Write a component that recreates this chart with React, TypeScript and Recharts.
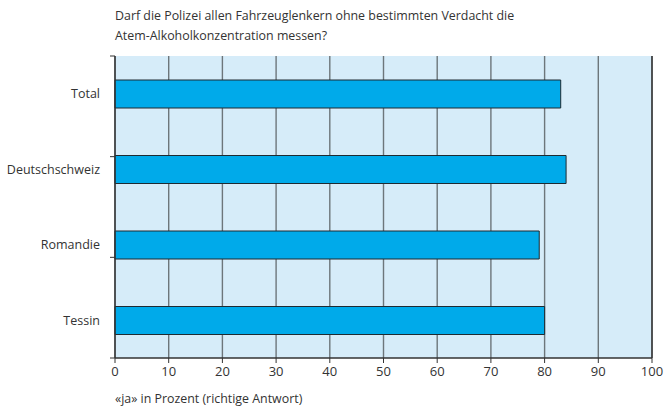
import React from 'react';
import {BarChart,Bar,XAxis,YAxis,CartesianGrid,ReferenceLine} from 'recharts';

const regions=['Total','Deutschschweiz','Romandie','Tessin'];
const yesShare=[83,84,79,80];
const xTicks=[0,10,20,30,40,50,60,70,80,90,100];
const bandEdges=[0,1,2,3,4];
const titleLines=['Darf die Polizei allen Fahrzeuglenkern ohne bestimmten Verdacht die','Atem-Alkoholkonzentration messen?'];
const xLabel='«ja» in Prozent (richtige Antwort)';

const data=regions.map((r,i)=>({region:r,value:yesShare[i]}));

const font='"Open Sans", "DejaVu Sans", sans-serif';
const ink='#333';

const App:React.FC=()=>{
  return(
    <div style={{position:'absolute',left:0,top:0,width:665,height:409,background:'#fff',fontFamily:font}}>
      {/* title */}
      <div style={{position:'absolute',left:115,top:6,fontSize:'12.4px',lineHeight:'20px',color:ink}}>
        {titleLines.map((t,i)=><div key={i}>{t}</div>)}
      </div>
      <BarChart width={665} height={409} data={data} layout="vertical" margin={{top:56,right:13,left:0,bottom:21}} barSize={28}>
        <CartesianGrid horizontal={false} stroke="#6d767b" strokeWidth={1.4} fill="#d6ecf9" strokeOpacity={1}/>
        <XAxis type="number" domain={[0,100]} ticks={xTicks} height={30} tickSize={5} tickMargin={4}
          axisLine={{stroke:'#333',strokeWidth:1.4}} tickLine={{stroke:'#333'}} tick={{fontSize:13,fill:ink,fontFamily:font}}/>
        <YAxis type="category" dataKey="region" width={115} axisLine={false} tickLine={false} tickSize={0} tickMargin={15}
          tick={{fontSize:12.5,fill:ink,fontFamily:font}}/>
        {/* band edge ticks, mirrored so it sits on the plot edge, ticks pointing out */}
        <YAxis yAxisId="edge" type="number" mirror domain={[0,4]} ticks={bandEdges} width={1} tick={()=><g/>} tickSize={-5}
          axisLine={{stroke:'#333',strokeWidth:1.4}} tickLine={{stroke:'#333',strokeWidth:1}}/>
        <ReferenceLine yAxisId="edge" y={4} stroke="#8a9296" strokeWidth={1.4}/>
        <ReferenceLine x={100} stroke="#333" strokeWidth={1.4}/>
        <Bar dataKey="value" fill="#00aaea" stroke="#1e2b32" strokeWidth={1} isAnimationActive={false}/>
      </BarChart>
      <div style={{position:'absolute',left:115,top:389,fontSize:'12.4px',lineHeight:'20px',color:ink}}>{xLabel}</div>
    </div>
  );
};
export default App;
